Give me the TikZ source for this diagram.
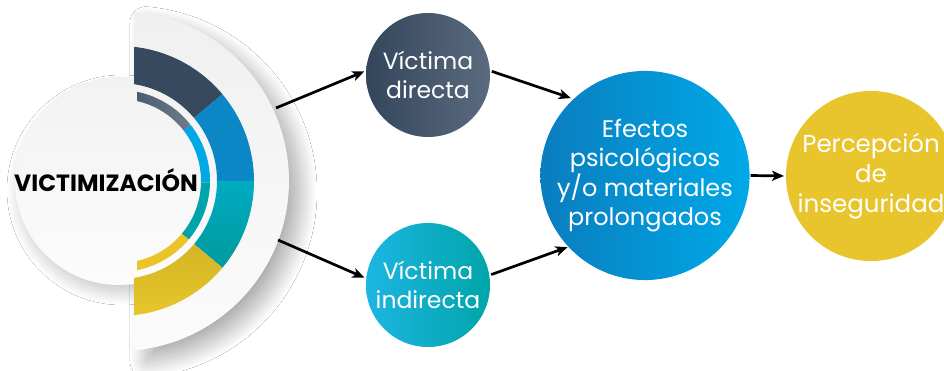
\documentclass[tikz,border=0pt]{standalone}
\usepackage{fontspec}
\setmainfont{Poppins}
\usetikzlibrary{arrows.meta,shadows.blur}
\definecolor{halfT}{HTML}{F0F0F0}
\definecolor{halfB}{HTML}{FBFBFB}
\definecolor{circT}{HTML}{F2F2F2}
\definecolor{circB}{HTML}{FCFCFC}
\definecolor{navy}{HTML}{36495E}
\definecolor{navyi}{HTML}{4B5B70}
\definecolor{blueo}{HTML}{0B87C6}
\definecolor{cyani}{HTML}{00A8E4}
\definecolor{tealoT}{HTML}{00ABC0}
\definecolor{tealoB}{HTML}{009A9E}
\definecolor{teali}{HTML}{00A3A8}
\definecolor{yelo}{HTML}{E8C82B}
\definecolor{yeloT}{HTML}{D4B526}
\definecolor{yeli}{HTML}{EBC42A}
\definecolor{dirL}{HTML}{34465C}
\definecolor{dirR}{HTML}{5B6B7F}
\definecolor{indL}{HTML}{1DB5E3}
\definecolor{indR}{HTML}{00A5A8}
\definecolor{efL}{HTML}{0A7DBE}
\definecolor{efR}{HTML}{00A9E8}
\definecolor{yel}{HTML}{E8C52D}
\newcommand\annsec[5]{%
  \path[#1] ([shift={(#2:#4)}]C) arc[start angle=#2,end angle=#3,radius=#4]
    -- ([shift={(#3:#5)}]C) arc[start angle=#3,end angle=#2,radius=#5] -- cycle;}
\begin{document}
\begin{tikzpicture}[x=1pt,y=1pt,
  arr/.style={line width=2.7pt,-{Stealth[length=12pt,width=10pt,inset=3pt]}},
  bub/.style={circle,inner sep=0pt,outer sep=0pt,align=center,text=white,
    font=\fontsize{23.5}{28.5}\selectfont}]
\useasboundingbox (0,0) rectangle (944,371);
\fill[white] (0,0) rectangle (944,371);
\coordinate (C) at (119,190);
% half disk
\path[top color=halfT,bottom color=halfB,
  blur shadow={shadow xshift=12pt,shadow yshift=-11pt,shadow blur radius=16pt,shadow blur steps=30,shadow opacity=32}]
  ([shift={(84.94:170)}]C) arc[start angle=84.94,end angle=-84.94,radius=170] -- cycle;
% inner circle
\node[circle,minimum size=208pt,inner sep=0pt,top color=circT,bottom color=circB,
  blur shadow={shadow xshift=3pt,shadow yshift=-9pt,shadow blur radius=11pt,shadow blur steps=25,shadow opacity=20}] (vcirc) at (C) {};
% rings
\begin{scope}
\clip (134,0) rectangle (400,371);
\annsec{fill=navy}{100}{40}{98}{135}
\annsec{fill=blueo}{40}{0}{98}{135}
\annsec{top color=tealoT,bottom color=tealoB}{0}{-40}{98}{135}
\annsec{top color=yeloT,bottom color=yelo}{-40}{-100}{98}{135}
\end{scope}
\begin{scope}
\clip (137,0) rectangle (400,371);
\annsec{left color=navy,right color=navyi!80!white}{100}{38}{82}{91}
\annsec{fill=cyani}{38}{-1}{82}{91}
\annsec{fill=teali}{-1}{-40}{82}{91}
\annsec{fill=yeli}{-40}{-100}{82}{91}
\end{scope}
\node[font=\bfseries\fontsize{23.5}{28}\selectfont,text=black] (victim) at (106,191) {VICTIMIZACIÓN};
% arrow starts
\coordinate (a1) at (276,263);
\coordinate (a2) at (278,131);
% bubbles
\node[bub,minimum size=124pt,left color=dirL,right color=dirR] (directa) at (428,296) {Víctima\\directa};
\node[bub,minimum size=124pt,left color=indL,right color=indR] (indirecta) at (428,86) {Víctima\\indirecta};
\node[bub,minimum size=184pt,left color=efL,right color=efR,
  font=\fontsize{24}{29.5}\selectfont] (efectos) at (645,195.5) {Efectos\\psicológicos\\y/o materiales\\prolongados};
\node[bub,minimum size=168pt,fill=yel,font=\fontsize{24.5}{30}\selectfont] (percep) at (871,195) {Percepción\\de\\inseguridad};
% arrows
\draw[arr,shorten >=2pt] (a1) -- (directa.176);
\draw[arr,shorten >=2pt] (a2) -- (indirecta.174);
\draw[arr,shorten <=2pt,shorten >=3pt] (directa.4) -- (efectos.133);
\draw[arr,shorten <=2pt,shorten >=1pt] (indirecta.9) -- (efectos.223);
\draw[arr,shorten <=1pt,shorten >=2pt] (efectos.east) -- (percep.west);
\end{tikzpicture}
\end{document}
